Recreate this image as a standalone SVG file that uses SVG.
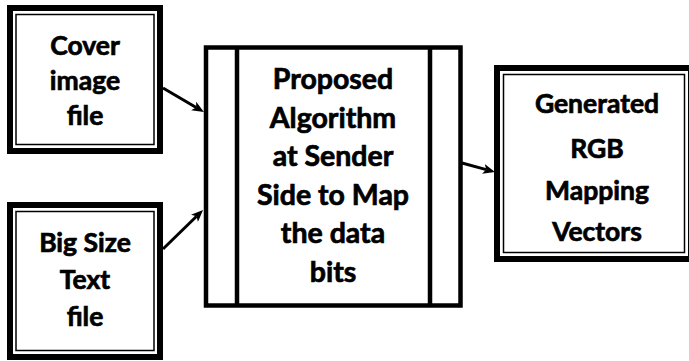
<svg xmlns="http://www.w3.org/2000/svg" width="689" height="361" viewBox="0 0 689 361">
<style>
.thick{fill:none;stroke:#000;stroke-width:6}
.thin{fill:none;stroke:#000;stroke-width:1.5}
.proc{fill:none;stroke:#000;stroke-width:4.5}
.lbl{font-family:Lato,"Liberation Sans",sans-serif;font-weight:bold;font-size:26.5px;fill:#000;stroke:#000;stroke-width:0.7;text-anchor:middle}
.big{font-size:28.5px}
.conn{stroke:#000;stroke-width:3;fill:none;marker-end:url(#ah)}
</style>
<defs>
<marker id="ah" viewBox="0 0 12 10" refX="3" refY="5" markerWidth="12" markerHeight="10" markerUnits="userSpaceOnUse" orient="auto">
<path d="M0,0 L12,5 L0,10 L3,5 z" fill="#000"/>
</marker>
</defs>
<rect width="689" height="361" fill="#fff"/>
<g id="cover">
<rect class="thick" x="10" y="8" width="150" height="143"/>
<rect class="thin" x="16" y="14.5" width="138" height="130"/>
<text class="lbl" x="85" y="55">Cover</text>
<text class="lbl" x="85" y="90">image</text>
<text class="lbl" x="85" y="125">file</text>
</g>
<g id="bigsize">
<rect class="thick" x="10" y="205" width="150" height="152"/>
<rect class="thin" x="16" y="211.5" width="138" height="139"/>
<text class="lbl" x="85" y="252">Big Size</text>
<text class="lbl" x="85" y="289">Text</text>
<text class="lbl" x="85" y="326">file</text>
</g>
<g id="algorithm">
<rect class="proc" x="206" y="47.5" width="254.5" height="258"/>
<line class="proc" x1="237" y1="47.5" x2="237" y2="305.5"/>
<line class="proc" x1="430" y1="47.5" x2="430" y2="305.5"/>
<text class="lbl big" x="333" y="89">Proposed</text>
<text class="lbl big" x="333" y="127.6">Algorithm</text>
<text class="lbl big" x="333" y="166.2">at Sender</text>
<text class="lbl big" x="333" y="204.8">Side to Map</text>
<text class="lbl big" x="333" y="243.4">the data</text>
<text class="lbl big" x="333" y="282">bits</text>
</g>
<g id="output">
<rect class="thick" x="497" y="68" width="194" height="191"/>
<rect class="thin" x="503.5" y="74.5" width="181" height="178"/>
<text class="lbl" x="597" y="113">Generated</text>
<text class="lbl" x="597" y="158">RGB</text>
<text class="lbl" x="597" y="200">Mapping</text>
<text class="lbl" x="597" y="241">Vectors</text>
</g>
<g id="connectors">
<line class="conn" x1="163" y1="88" x2="196.2" y2="107.5"/>
<line class="conn" x1="163" y1="249" x2="196.6" y2="216.3"/>
<line class="conn" x1="462" y1="163" x2="486.3" y2="169.6"/>
</g>
</svg>
